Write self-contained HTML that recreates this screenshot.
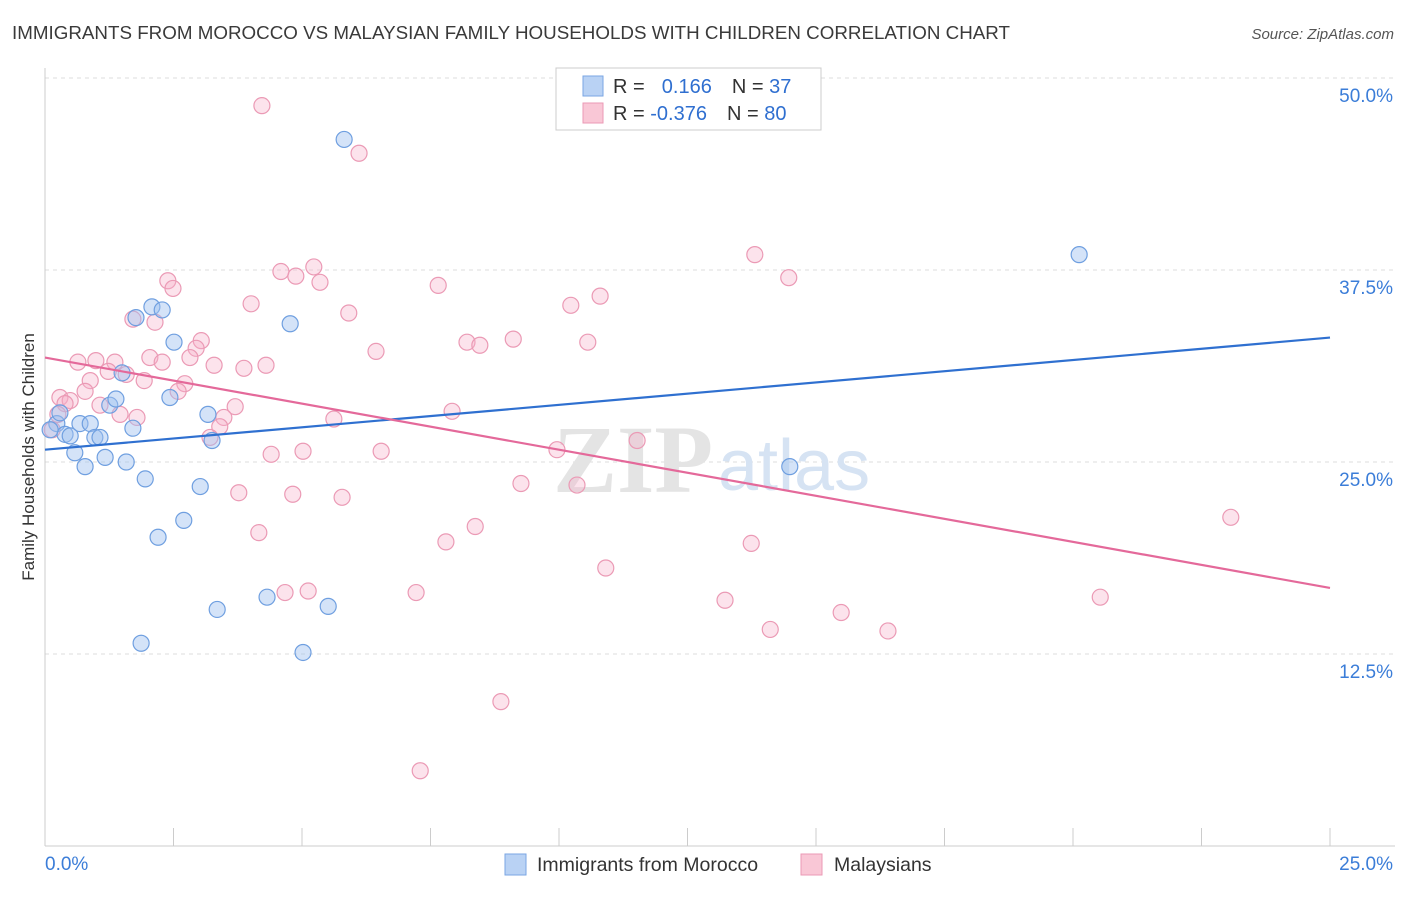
<!DOCTYPE html>
<html><head><meta charset="utf-8">
<style>
html,body{margin:0;padding:0;background:#fff;}
body{width:1406px;height:892px;overflow:hidden;font-family:"Liberation Sans",sans-serif;}
</style></head>
<body>
<svg id="chart" width="1406" height="892" xmlns="http://www.w3.org/2000/svg" font-family="Liberation Sans, sans-serif">
<text x="12" y="39" font-size="18.5" fill="#3a3a3a" textLength="998" lengthAdjust="spacingAndGlyphs">IMMIGRANTS FROM MOROCCO VS MALAYSIAN FAMILY HOUSEHOLDS WITH CHILDREN CORRELATION CHART</text>
<text x="1394" y="39" font-size="15" fill="#555" font-style="italic" text-anchor="end">Source: ZipAtlas.com</text>
<g id="grid"></g>
<g>
<text x="553" y="492" font-size="96" fill="#e4e4e4" font-family="Liberation Serif, serif" font-weight="bold">ZIP</text>
<text x="718" y="490" font-size="72" fill="#d6e3f3">atlas</text>
</g>
<g id="axes"></g>
<g id="pts"></g>
<g id="lines"></g>
<text transform="translate(34,457) rotate(-90)" font-size="17" fill="#333" text-anchor="middle">Family Households with Children</text>
<g>
<rect x="556" y="68" width="265" height="62" fill="#fff" stroke="#ccc"/>
<rect x="583" y="76" width="20" height="20" fill="#b9d2f4" stroke="#7aa6e3"/>
<rect x="583" y="103" width="20" height="20" fill="#f9c7d6" stroke="#eb9ab5"/>
<text x="613" y="93" font-size="20" fill="#333">R = <tspan fill="#2f6fd0" dx="6">&#160;0.166</tspan><tspan dx="20">N = </tspan><tspan fill="#2f6fd0">37</tspan></text>
<text x="613" y="120" font-size="20" fill="#333">R = <tspan fill="#2f6fd0">-0.376</tspan><tspan dx="20">N = </tspan><tspan fill="#2f6fd0">80</tspan></text>
</g>
<g>
<rect x="505" y="854" width="21" height="21" fill="#b9d2f4" stroke="#7aa6e3"/>
<text x="537" y="871" font-size="19.5" fill="#333">Immigrants from Morocco</text>
<rect x="801" y="854" width="21" height="21" fill="#f9c7d6" stroke="#eb9ab5"/>
<text x="834" y="871" font-size="19.5" fill="#333">Malaysians</text>
</g>
</svg>
<script>
const xTicks=[0,2.5,5,7.5,10,12.5,15,17.5,20,22.5,25];
const yTicks=[12.5,25,37.5,50];
const yTickLabels=["12.5%","25.0%","37.5%","50.0%"];
const blueX=[0.23,0.29,0.39,0.49,0.58,0.68,0.78,0.88,0.97,1.07,1.17,1.26,1.38,1.50,1.58,1.71,1.77,1.95,2.08,2.20,2.28,2.43,2.51,2.70,3.02,3.17,3.25,3.35,4.32,4.77,5.02,5.51,5.82,1.87,14.49,20.12,0.10];
const blueY=[27.5,28.2,26.8,26.7,25.6,27.5,24.7,27.5,26.6,26.6,25.3,28.7,29.1,30.8,25.0,27.2,34.4,23.9,35.1,20.1,34.9,29.2,32.8,21.2,23.4,28.1,26.4,15.4,16.2,34.0,12.6,15.6,46.0,13.2,24.7,38.5,27.1];
const pinkX=[4.22,6.11,13.81,14.47,2.39,2.49,4.59,4.88,5.23,5.35,7.65,4.01,10.23,10.80,1.71,2.14,5.91,3.04,2.94,8.21,8.46,9.11,10.56,6.44,2.04,2.28,2.82,3.29,3.87,4.30,0.64,0.99,1.36,1.23,1.58,0.88,1.93,2.72,2.59,0.78,0.29,0.49,1.07,1.46,1.79,3.70,3.48,3.40,3.21,0.39,0.25,5.62,7.92,11.52,4.40,5.02,6.54,9.96,3.77,4.82,5.78,9.26,10.35,8.37,7.80,4.16,13.74,10.91,4.67,5.12,7.22,13.23,14.11,15.49,16.40,23.07,20.53,8.87,7.30,0.14];
const pinkY=[48.2,45.1,38.5,37.0,36.8,36.3,37.4,37.1,37.7,36.7,36.5,35.3,35.2,35.8,34.3,34.1,34.7,32.9,32.4,32.8,32.6,33.0,32.8,32.2,31.8,31.5,31.8,31.3,31.1,31.3,31.5,31.6,31.5,30.9,30.7,30.3,30.3,30.1,29.6,29.6,29.2,29.0,28.7,28.1,27.9,28.6,27.9,27.3,26.6,28.8,28.1,27.8,28.3,26.4,25.5,25.7,25.7,25.8,23.0,22.9,22.7,23.6,23.5,20.8,19.8,20.4,19.7,18.1,16.5,16.6,16.5,16.0,14.1,15.2,14.0,21.4,16.2,9.4,4.9,27.1];
const blueLine=[25.8,33.1];
const pinkLine=[31.8,16.8];
const NS="http://www.w3.org/2000/svg";
function sx(v){return 45+v*51.4;}
function sy(v){return 846-v*15.36;}
function mk(tag,attrs,parent){const e=document.createElementNS(NS,tag);for(const k in attrs)e.setAttribute(k,attrs[k]);parent.appendChild(e);return e;}
const grid=document.getElementById('grid'),axes=document.getElementById('axes'),pts=document.getElementById('pts'),lines=document.getElementById('lines');
yTicks.forEach((t,i)=>{
 const g=mk('line',{x1:45,x2:1395,y1:sy(t),y2:sy(t),stroke:'#ddd','stroke-dasharray':'4,4'},grid);
 
 
 const l=mk('text',{x:1393,y:sy(t)+24,'font-size':19,fill:'#3b7dd8','text-anchor':'end'},axes);
 l.textContent=yTickLabels[i];
 
 
});
const xa=mk('line',{x1:45,x2:1395,y1:846,y2:846,stroke:'#ccc'},axes);


const ya=mk('line',{x1:45,x2:45,y1:68,y2:846,stroke:'#ccc'},axes);


xTicks.forEach(t=>{
 const k=mk('line',{x1:sx(t),x2:sx(t),y1:828,y2:846,stroke:'#ccc'},axes);
 
 
});
const xl0=mk('text',{x:45,y:870,'font-size':19,fill:'#3b7dd8'},axes);xl0.textContent='0.0%';


const xl1=mk('text',{x:1393,y:870,'font-size':19,fill:'#3b7dd8','text-anchor':'end'},axes);xl1.textContent='25.0%';


pinkX.forEach((x,i)=>{
 const c=mk('circle',{cx:sx(x),cy:sy(pinkY[i]),r:8,fill:'rgba(246,176,200,0.35)',stroke:'#eb9ab5','stroke-width':1.2},pts);
 
 
});
blueX.forEach((x,i)=>{
 const c=mk('circle',{cx:sx(x),cy:sy(blueY[i]),r:8,fill:'rgba(160,192,240,0.45)',stroke:'#6f9fe0','stroke-width':1.2},pts);
 
 
});
const bl=mk('line',{x1:sx(0),x2:sx(25),y1:sy(blueLine[0]),y2:sy(blueLine[1]),stroke:'#2f70d0','stroke-width':2.2},lines);


const pl=mk('line',{x1:sx(0),x2:sx(25),y1:sy(pinkLine[0]),y2:sy(pinkLine[1]),stroke:'#e4699a','stroke-width':2.2},lines);


</script>
</body></html>
